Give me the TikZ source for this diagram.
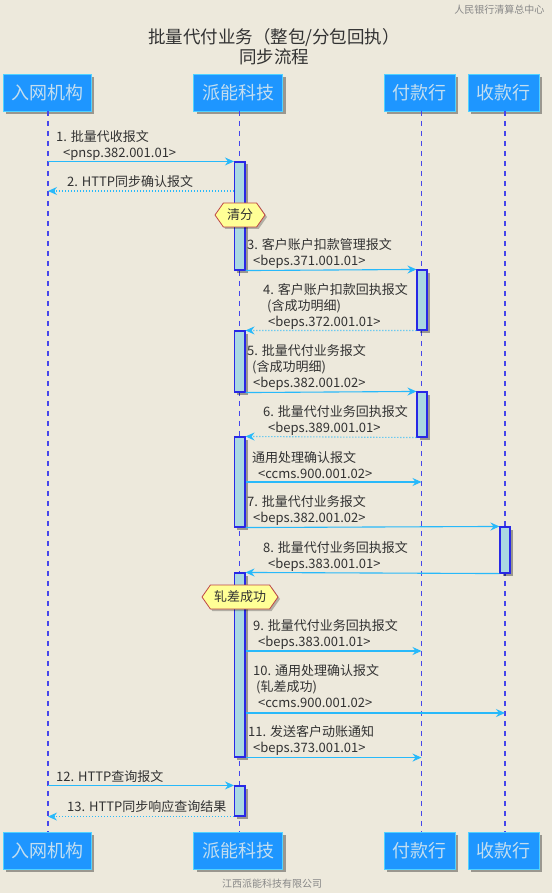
\documentclass[tikz,border=0pt]{standalone}
\usepackage{fontspec}
\setmainfont{Noto Sans CJK SC}
\usetikzlibrary{arrows.meta,shapes.symbols,shadows,fit}
\definecolor{bgc}{RGB}{237,233,220}
\definecolor{hdrfill}{RGB}{30,150,255}
\definecolor{hdrline}{RGB}{80,210,255}
\definecolor{hdrtext}{RGB}{195,222,240}
\definecolor{lifec}{RGB}{70,70,235}
\definecolor{actfill}{RGB}{170,216,226}
\definecolor{actline}{RGB}{40,40,230}
\definecolor{arrc}{RGB}{40,185,250}
\definecolor{txtc}{RGB}{50,50,50}
\definecolor{hexfill}{RGB}{255,255,150}
\definecolor{hexline}{RGB}{190,70,70}
\definecolor{greyc}{RGB}{135,135,135}
\begin{document}
\begin{tikzpicture}[x=1pt,y=-1pt,
  hdr/.style={draw=hdrline, line width=0.8pt, fill=hdrfill, text=hdrtext,
    font=\fontsize{18}{20}\selectfont, minimum height=37pt, inner sep=0pt,
    drop shadow={shadow xshift=3pt, shadow yshift=-3pt, fill=black, opacity=0.35}},
  life/.style={draw=lifec, line width=1.1pt, dash pattern=on 5pt off 5pt},
  act/.style={draw=actline, line width=1.1pt, fill=actfill, inner sep=0pt,
    drop shadow={shadow xshift=2.5pt, shadow yshift=-2.5pt, fill=black, opacity=0.35}},
  msgtxt/.style={anchor=base west, align=left, inner sep=0pt, text=txtc,
    font=\fontsize{13}{16}\selectfont},
  msg/.style={draw=arrc, line width=1.1pt, -{Stealth[length=9pt,width=8pt,inset=3pt]}},
  ret/.style={msg, dash pattern=on 1.2pt off 1.8pt},
  hexa/.style={shape=signal, signal to=west and east, signal pointer angle=110,
    draw=hexline, line width=0.8pt, fill=hexfill, text=txtc, inner sep=3pt,
    font=\fontsize{13}{15}\selectfont, minimum height=24pt,
    drop shadow={shadow xshift=2pt, shadow yshift=-2pt, fill=black, opacity=0.25}}
]
\useasboundingbox (0,0) rectangle (552,893);
\fill[bgc] (0,0) rectangle (552,893);

% title and captions
\node[text=greyc, font=\fontsize{10}{12}\selectfont, anchor=east] (org) at (548,10) {人民银行清算总中心};
\node[text=txtc, font=\fontsize{17.5}{20}\selectfont, align=center] (title) at (274,47) {批量代付业务（整包/分包回执）\\同步流程};
\node[text=greyc, font=\fontsize{10}{12}\selectfont] (foot) at (272,884) {江西派能科技有限公司};

% lifeline x positions
\coordinate (L1) at (48,0);
\coordinate (L2) at (239.5,0);
\coordinate (L3) at (421.5,0);
\coordinate (L4) at (505,0);

% header boxes
\node[hdr, minimum width=88pt] (H1) at (47,92.5) {入网机构};
\node[hdr, minimum width=89pt] (H2) at (238,92.5) {派能科技};
\node[hdr, minimum width=71pt] (H3) at (419.5,92.5) {付款行};
\node[hdr, minimum width=71pt] (H4) at (503.5,92.5) {收款行};
\node[hdr, minimum width=88pt] (B1) at (47,850.5) {入网机构};
\node[hdr, minimum width=89pt] (B2) at (238,850.5) {派能科技};
\node[hdr, minimum width=71pt] (B3) at (419.5,850.5) {付款行};
\node[hdr, minimum width=71pt] (B4) at (503.5,850.5) {收款行};

% lifelines
\draw[life] (L1 |- H1.south) -- (L1 |- B1.north);
\draw[life] (L2 |- H2.south) -- (L2 |- B2.north);
\draw[life] (L3 |- H3.south) -- (L3 |- B3.north);
\draw[life] (L4 |- H4.south) -- (L4 |- B4.north);

% activation boxes
\node[act, fit={(234.5,162) (245,270)}] (A1) {};
\node[act, fit={(417,270) (427,330)}] (P1) {};
\node[act, fit={(234.5,331) (245,392)}] (A2) {};
\node[act, fit={(417,392) (427,437)}] (P2) {};
\node[act, fit={(234.5,437) (245,527)}] (A3) {};
\node[act, fit={(500,527) (510,573)}] (R1) {};
\node[act, fit={(234.5,573) (245,757)}] (A4) {};
\node[act, fit={(234.5,786) (245,816)}] (A5) {};

% state markers
\node[hexa, minimum width=50pt] (S1) at (240,215) {清分};
\node[hexa, minimum width=76pt] (S2) at (240,597) {轧差成功};

% message texts (anchor = baseline of the last line)
\node[msgtxt] (t1) at (56,157.7) {1. 批量代收报文\\\hspace*{7pt}<pnsp.382.001.01>};
\node[msgtxt] (t2) at (67,186.7) {2. HTTP同步确认报文};
\node[msgtxt] (t3) at (247,265.7) {3. 客户账户扣款管理报文\\\hspace*{6pt}<beps.371.001.01>};
\node[msgtxt] (t4) at (263,326.7) {4. 客户账户扣款回执报文\\\hspace*{4pt}(含成功明细)\\\hspace*{5pt}<beps.372.001.01>};
\node[msgtxt] (t5) at (247,387.7) {5. 批量代付业务报文\\\hspace*{5pt}(含成功明细)\\\hspace*{6pt}<beps.382.001.02>};
\node[msgtxt] (t6) at (263,432.7) {6. 批量代付业务回执报文\\\hspace*{5pt}<beps.389.001.01>};
\node[msgtxt] (tc) at (252,478.7) {通用处理确认报文\\\hspace*{6pt}<ccms.900.001.02>};
\node[msgtxt] (t7) at (247,522.7) {7. 批量代付业务报文\\\hspace*{6pt}<beps.382.001.02>};
\node[msgtxt] (t8) at (263,568.7) {8. 批量代付业务回执报文\\\hspace*{5pt}<beps.383.001.01>};
\node[msgtxt] (t9) at (253,646.7) {9. 批量代付业务回执报文\\\hspace*{5pt}<beps.383.001.01>};
\node[msgtxt] (t10) at (253,707.7) {10. 通用处理确认报文\\\hspace*{3pt}(轧差成功)\\\hspace*{5pt}<ccms.900.001.02>};
\node[msgtxt] (t11) at (248,752.7) {11. 发送客户动账通知\\\hspace*{5pt}<beps.373.001.01>};
\node[msgtxt] (t12) at (56,781.7) {12. HTTP查询报文};
\node[msgtxt] (t13) at (67,811.7) {13. HTTP同步响应查询结果};

% arrow heights not at box edges
\coordinate (y2) at (0,191);
\coordinate (yc) at (0,482);
\coordinate (y9) at (0,651);
\coordinate (y10) at (0,713);

% connectors
\draw[msg] (L1 |- A1.north) -- (A1.north west);
\draw[ret] (A1.west |- y2) -- (L1 |- y2);
\draw[msg] (A1.south east) -- (P1.north west);
\draw[ret] (P1.south west) -- (A2.north east);
\draw[msg] (A2.south east) -- (P2.north west);
\draw[ret] (P2.south west) -- (A3.north east);
\draw[msg] (A3.east |- yc) -- (L3 |- yc);
\draw[msg] (A3.south east) -- (R1.north west);
\draw[msg] (R1.south west) -- (A4.north east);
\draw[msg] (A4.east |- y9) -- (L3 |- y9);
\draw[msg] (A4.east |- y10) -- (L4 |- y10);
\draw[msg] (A4.south east) -- (L3 |- A4.south);
\draw[msg] (L1 |- A5.north) -- (A5.north west);
\draw[ret] (A5.south west) -- (L1 |- A5.south);
\end{tikzpicture}
\end{document}
